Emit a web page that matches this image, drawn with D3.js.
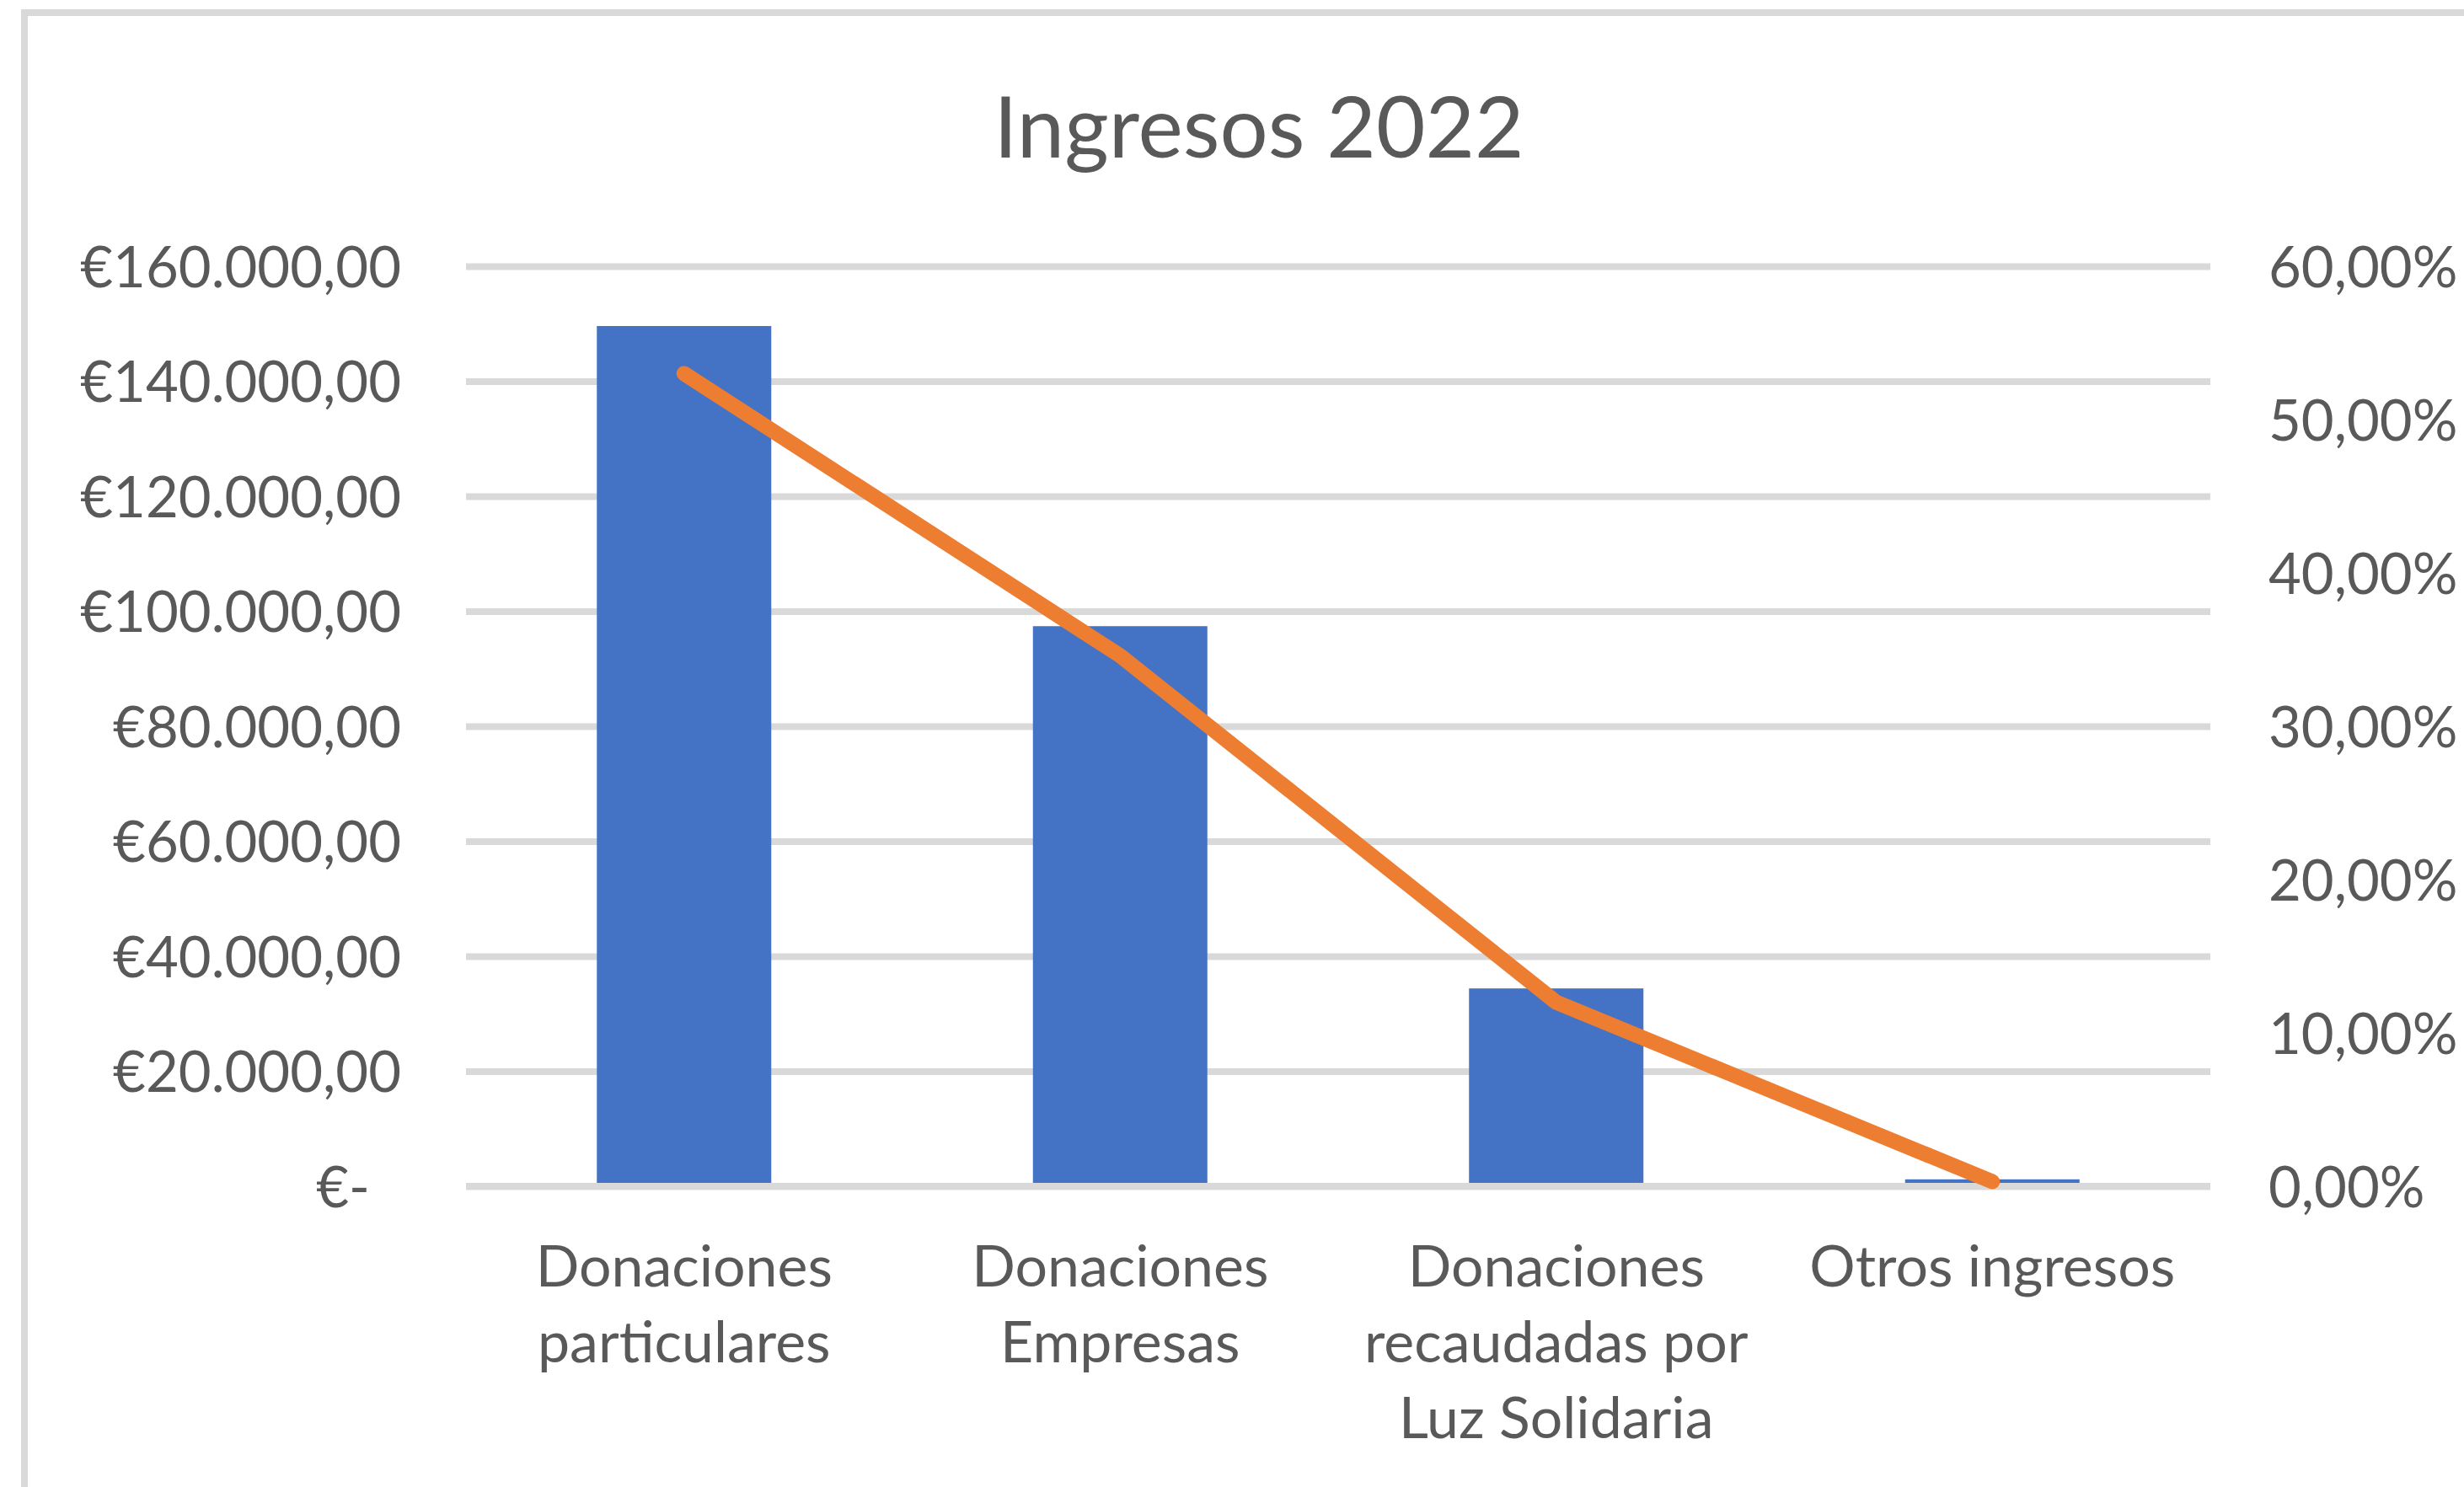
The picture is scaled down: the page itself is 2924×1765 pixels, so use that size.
<!DOCTYPE html>
<html>
<head>
<meta charset="utf-8">
<script src="https://cdn.jsdelivr.net/npm/d3@7"></script>
<style>
  body { margin: 0; background: #fff; }
  text { font-family: Lato, "Open Sans", sans-serif; fill: #595959; }
</style>
</head>
<body>
<svg id="chart" width="2924" height="1765"></svg>
<script>
var width = 2924, height = 1765;

// data
var categories = ["Donaciones\nparticulares", "Donaciones\nEmpresas", "Donaciones\nrecaudadas por\nLuz Solidaria", "Otros ingresos"];
var amounts = [149600, 97400, 34400, 1200];
var shares = [0.530, 0.346, 0.120, 0.003];
var euroTicks = [0, 20000, 40000, 60000, 80000, 100000, 120000, 140000, 160000];
var pctTicks = [0, 0.1, 0.2, 0.3, 0.4, 0.5, 0.6];

var plot = { left: 553, right: 2623, top: 316, bottom: 1408 };

var locale = d3.formatLocale({ decimal: ",", thousands: ".", grouping: [3], currency: ["€", ""] });
var euro = locale.format("$,.2f");
var pct = locale.format(".2%");

var x = d3.scaleBand()
        .domain(categories)
        .range([plot.left, plot.right])
        .paddingInner(0.6)
        .paddingOuter(0.3);

var yL = d3.scaleLinear().domain([0, 160000]).range([plot.bottom, plot.top]);
var yR = d3.scaleLinear().domain([0, 0.6]).range([plot.bottom, plot.top]);

var svg = d3.select("#chart");

// chart frame (only top/left edges visible in the crop)
svg.append("rect")
        .attr("x", 29).attr("y", 15)
        .attr("width", 3200).attr("height", 2200)
        .attr("fill", "none")
        .attr("stroke", "#d9d9d9")
        .attr("stroke-width", 8);

svg.append("text")
        .attr("x", 1494)
        .attr("y", 187)
        .attr("text-anchor", "middle")
        .style("font-size", "101px")
        .text("Ingresos 2022");

// gridlines
var grid = svg.append("g")
        .attr("transform", "translate(" + plot.left + ",0)")
        .call(d3.axisLeft(yL).tickValues(euroTicks).tickSize(-(plot.right - plot.left)).tickFormat(""));
grid.select(".domain").remove();
grid.selectAll("line").attr("stroke", "#d9d9d9").attr("stroke-width", 8);

// bars
svg.selectAll(".bar")
        .data(amounts)
        .enter().append("rect")
        .attr("class", "bar")
        .attr("x", function (d, i) { return x(categories[i]); })
        .attr("width", x.bandwidth())
        .attr("y", function (d) { return yL(d); })
        .attr("height", function (d) { return yL(0) - yL(d); })
        .attr("fill", "#4472c4");

// category axis line over the bars
svg.append("line")
        .attr("x1", plot.left).attr("x2", plot.right)
        .attr("y1", yL(0)).attr("y2", yL(0))
        .attr("stroke", "#d9d9d9")
        .attr("stroke-width", 8);

// left axis
var left = svg.append("g")
        .attr("transform", "translate(" + plot.left + ",0)")
        .call(d3.axisLeft(yL).tickValues(euroTicks).tickSize(0).tickPadding(77)
                .tickFormat(function (d) { return d === 0 ? "€-" : euro(d); }));
left.select(".domain").remove();
left.attr("font-family", null).attr("font-size", null);
left.selectAll("text")
        .style("font-size", "67px")
        .attr("dy", "0.36em")
        .attr("dx", function (d) { return d === 0 ? -37 : 0; });

// right axis
var right = svg.append("g")
        .attr("transform", "translate(" + plot.right + ",0)")
        .call(d3.axisRight(yR).tickValues(pctTicks).tickSize(0).tickPadding(69).tickFormat(pct));
right.select(".domain").remove();
right.attr("font-family", null).attr("font-size", null);
right.selectAll("text")
        .style("font-size", "67px")
        .attr("dy", "0.36em");

// category labels
var labels = svg.selectAll(".cat")
        .data(categories)
        .enter().append("text")
        .attr("class", "cat")
        .attr("text-anchor", "middle")
        .style("font-size", "68px");
labels.each(function (d) {
        var t = d3.select(this);
        var cx = x(d) + x.bandwidth() / 2;
        d.split("\n").forEach(function (line, k) {
                t.append("tspan")
                        .attr("x", cx)
                        .attr("y", 1527 + k * 90)
                        .text(line);
        });
});

// share line
var line = d3.line()
        .x(function (d, i) { return x(categories[i]) + x.bandwidth() / 2; })
        .y(function (d) { return yR(d); });

svg.append("path")
        .datum(shares)
        .attr("d", line)
        .attr("fill", "none")
        .attr("stroke", "#ed7d31")
        .attr("stroke-width", 18)
        .attr("stroke-linecap", "round")
        .attr("stroke-linejoin", "round");
</script>
</body>
</html>
